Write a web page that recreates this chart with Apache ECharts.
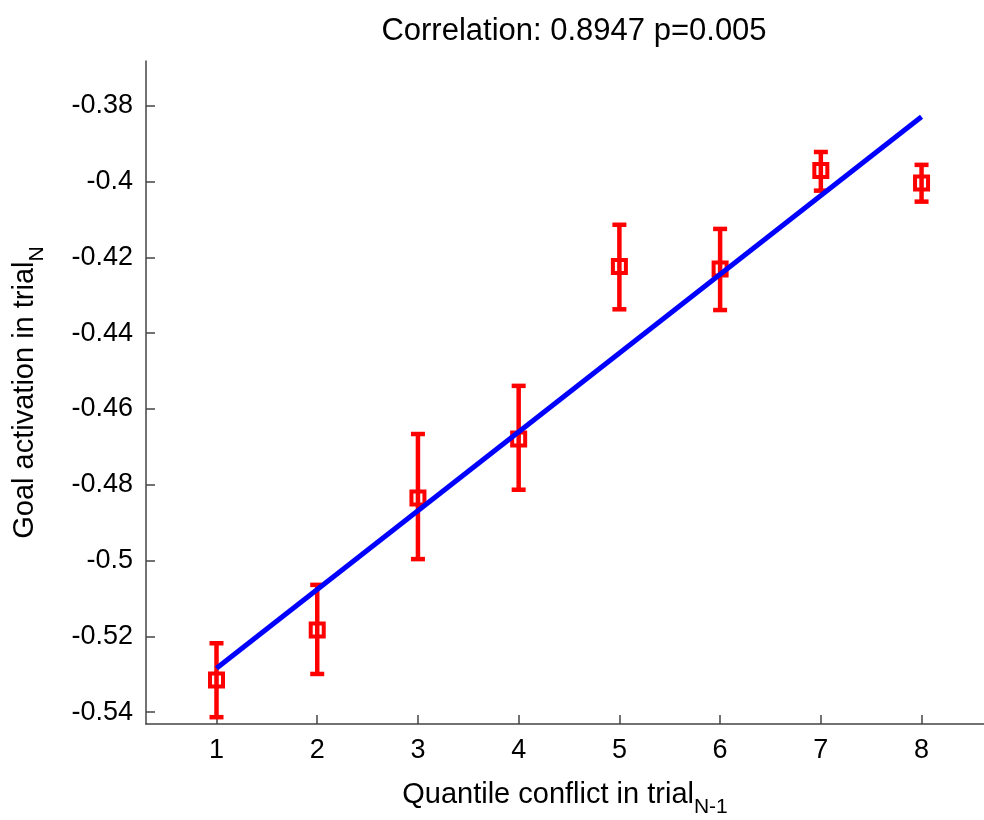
<!DOCTYPE html>
<html>
<head>
<meta charset="utf-8">
<script src="https://cdn.jsdelivr.net/npm/echarts@6/dist/echarts.min.js"></script>
<style>
html, body { margin: 0; padding: 0; background: #fff; }
#main { width: 984px; height: 820px; }
</style>
</head>
<body>
<div id="main"></div>
<script>
// quantiles and goal activation means with error bar ends
var quantiles = [1, 2, 3, 4, 5, 6, 7, 8];
var meanVals = [-0.5315, -0.5183, -0.4835, -0.4679, -0.4224, -0.4231, -0.3971, -0.4004];
var upperVals = [-0.5218, -0.5064, -0.4666, -0.4539, -0.4114, -0.4125, -0.3922, -0.3956];
var lowerVals = [-0.5413, -0.5299, -0.4996, -0.4813, -0.4337, -0.4339, -0.4024, -0.4053];
// regression line ends
var fitX = [1, 8];
var fitY = [-0.5284, -0.3829];
var xTicks = [1, 2, 3, 4, 5, 6, 7, 8];
var yTicks = [-0.54, -0.52, -0.5, -0.48, -0.46, -0.44, -0.42, -0.4, -0.38];

window.onload = function () {
	var chart = echarts.init(document.getElementById('main'));
	var font = 'Liberation Sans, Arial, sans-serif';

	var pts = quantiles.map(function (q, i) { return [q, meanVals[i]]; });
	var bars = quantiles.map(function (q, i) { return [q, lowerVals[i], upperVals[i]]; });
	var fit = fitX.map(function (x, i) { return [x, fitY[i]]; });

	var option = {
		animation: false,
		textStyle: { fontFamily: font },
		title: {
			text: 'Correlation: 0.8947 p=0.005',
			left: 569, textAlign: 'center', top: 11,
			textStyle: { fontSize: 31, fontWeight: 'normal', color: '#000', fontFamily: font }
		},
		grid: { left: 146, right: 0, top: 61, bottom: 96, outerBoundsMode: 'none', containLabel: false },
		xAxis: {
			type: 'value', min: 0.3, max: 8.62,
			axisLine: { show: true, lineStyle: { color: '#444', width: 1.5 } },
			axisTick: { show: true, inside: true, length: 9, customValues: xTicks, lineStyle: { color: '#444', width: 1.5 } },
			axisLabel: { customValues: xTicks, fontSize: 27, color: '#000', margin: 13, fontFamily: font },
			splitLine: { show: false },
			name: '{a|Quantile conflict in trial}{b|N-1}',
			nameLocation: 'middle', nameGap: 47,
			nameTextStyle: {
				rich: {
					a: { fontSize: 29, color: '#000', fontFamily: font },
					b: { fontSize: 21, color: '#000', fontFamily: font, padding: [26, 0, 0, 0] }
				}
			}
		},
		yAxis: {
			type: 'value', min: -0.5431, max: -0.3682,
			axisLine: { show: true, lineStyle: { color: '#444', width: 1.5 } },
			axisTick: { show: true, inside: true, length: 9, customValues: yTicks, lineStyle: { color: '#444', width: 1.5 } },
			axisLabel: {
				customValues: yTicks, fontSize: 27, color: '#000', margin: 13, fontFamily: font,
				formatter: function (v) { return String(parseFloat(v.toFixed(2))); }
			},
			splitLine: { show: false },
			name: '{a|Goal activation in trial}{b|N}',
			nameLocation: 'middle', nameGap: 98,
			nameTextStyle: {
				rich: {
					a: { fontSize: 29, color: '#000', fontFamily: font },
					b: { fontSize: 21, color: '#000', fontFamily: font, padding: [26, 0, 0, 0] }
				}
			}
		},
		series: [
			{
				type: 'scatter',
				data: pts,
				z: 2,
				symbol: 'rect',
				symbolSize: 13,
				itemStyle: { color: 'rgba(0,0,0,0)', borderColor: '#ff0000', borderWidth: 4, opacity: 1 }
			},
			{
				type: 'custom',
				data: bars,
				z: 3,
				renderItem: function (params, api) {
					var x = api.value(0);
					var lo = api.coord([x, api.value(1)]);
					var hi = api.coord([x, api.value(2)]);
					var w = 7;
					var st = { stroke: '#ff0000', lineWidth: 4.5 };
					return {
						type: 'group',
						children: [
							{ type: 'line', shape: { x1: lo[0], y1: lo[1], x2: hi[0], y2: hi[1] }, style: st },
							{ type: 'line', shape: { x1: lo[0] - w, y1: lo[1], x2: lo[0] + w, y2: lo[1] }, style: st },
							{ type: 'line', shape: { x1: hi[0] - w, y1: hi[1], x2: hi[0] + w, y2: hi[1] }, style: st }
						]
					};
				}
			},
			{
				type: 'line',
				data: fit,
				z: 4,
				symbol: 'none',
				lineStyle: { color: '#0000ff', width: 5 }
			}
		]
	};
	chart.setOption(option);
};
</script>
</body>
</html>
